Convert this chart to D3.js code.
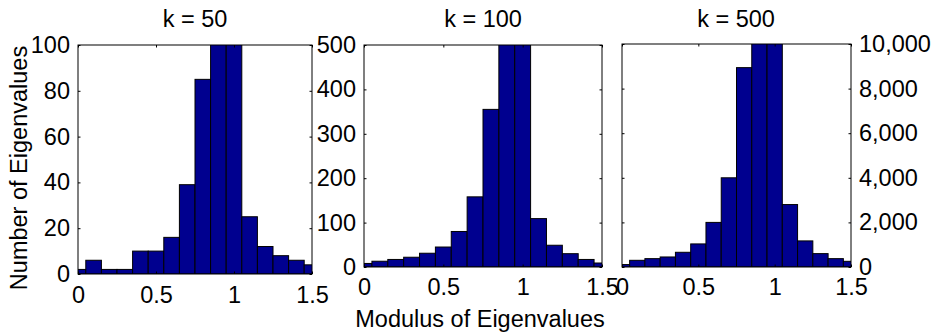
<!DOCTYPE html>
<html>
<head>
<meta charset="utf-8">
<script src="https://cdn.jsdelivr.net/npm/d3@7"></script>
<style>
  body { margin: 0; background: #fff; }
  svg text { font-family: "Liberation Sans", Arial, Helvetica, sans-serif; fill: #000; }
</style>
</head>
<body>
<svg width="931" height="333"></svg>
<script>
// histogram bins (centres, width 0.1)
var binCenters = [0, 0.1, 0.2, 0.3, 0.4, 0.5, 0.6, 0.7, 0.8, 0.9, 1.0, 1.1, 1.2, 1.3, 1.4, 1.5];
var binWidth = 0.1;

// counts (the two peak bins run off the top of each axis)
var counts50  = [2, 6, 2, 2, 10, 10, 16, 39, 85, 135, 125, 25, 12, 8, 6, 4];
var counts100 = [8, 13, 17, 22, 31, 45, 80, 158, 355, 620, 600, 109, 49, 30, 17, 9];
var counts500 = [110, 300, 375, 450, 660, 1035, 2000, 4000, 8940, 12500, 12000, 2800, 1170, 600, 375, 255];

var titles = ["k = 50", "k = 100", "k = 500"];
var xTicks = [0, 0.5, 1, 1.5];
var yTicks50 = [0, 20, 40, 60, 80, 100];
var yTicks100 = [0, 100, 200, 300, 400, 500];
var yTicks500 = [0, 2000, 4000, 6000, 8000, 10000];

var svg = d3.select("svg");
var fontSize = 23.5;
var tick = 2.5;

var panels = [
  {title: titles[0], counts: counts50,  yTicks: yTicks50,  yMax: 100,   left: 78,  right: 312, top: 45, bottom: 274, ySide: "left",  xPad: 12.5, cx: 195},
  {title: titles[1], counts: counts100, yTicks: yTicks100, yMax: 500,   left: 364, right: 602, top: 45, bottom: 267, ySide: "left",  xPad: 11,   cx: 483},
  {title: titles[2], counts: counts500, yTicks: yTicks500, yMax: 10000, left: 622, right: 851, top: 44, bottom: 267, ySide: "right", xPad: 11,   cx: 736}
];

panels.forEach(function (p, i) {
  var x = d3.scaleLinear().domain([0, 1.5]).range([p.left, p.right]);
  var y = d3.scaleLinear().domain([0, p.yMax]).range([p.bottom, p.top]);

  svg.append("clipPath").attr("id", "clip" + i)
    .append("rect")
    .attr("x", p.left).attr("y", p.top)
    .attr("width", p.right - p.left).attr("height", p.bottom - p.top);

  // bars
  svg.append("g")
    .attr("clip-path", "url(#clip" + i + ")")
    .selectAll("rect")
    .data(binCenters)
    .enter()
    .append("rect")
    .attr("x", d => x(d - binWidth / 2))
    .attr("width", d => x(d + binWidth / 2) - x(d - binWidth / 2))
    .attr("y", (d, j) => y(p.counts[j]))
    .attr("height", (d, j) => y(0) - y(p.counts[j]))
    .attr("fill", "#00008f")
    .attr("stroke", "#000")
    .attr("stroke-width", 1);

  // inward ticks on all four sides
  var fmt = p.ySide === "right" ? d3.format(",") : d3.format("");
  var xb = svg.append("g").attr("transform", "translate(0," + p.bottom + ")")
    .call(d3.axisBottom(x).tickValues(xTicks).tickSize(-tick).tickPadding(p.xPad).tickFormat(d3.format("")));
  var xt = svg.append("g").attr("transform", "translate(0," + p.top + ")")
    .call(d3.axisTop(x).tickValues(xTicks).tickSize(-tick).tickFormat(""));
  var yl = svg.append("g").attr("transform", "translate(" + p.left + ",0)")
    .call(d3.axisLeft(y).tickValues(p.yTicks).tickSize(-tick).tickPadding(8)
      .tickFormat(p.ySide === "left" ? fmt : ""));
  var yr = svg.append("g").attr("transform", "translate(" + p.right + ",0)")
    .call(d3.axisRight(y).tickValues(p.yTicks).tickSize(-tick).tickPadding(8)
      .tickFormat(p.ySide === "right" ? fmt : ""));

  [xb, xt, yl, yr].forEach(function (g) {
    g.select(".domain").remove();
    g.selectAll("line").attr("stroke", "#000");
    g.selectAll("text").style("font-size", fontSize + "px").attr("fill", "#000");
  });

  // box
  svg.append("rect")
    .attr("x", p.left).attr("y", p.top)
    .attr("width", p.right - p.left).attr("height", p.bottom - p.top)
    .attr("fill", "none").attr("stroke", "#000").attr("stroke-width", 1);

  svg.append("text")
    .attr("x", p.cx).attr("y", 27)
    .attr("text-anchor", "middle")
    .style("font-size", fontSize + "px")
    .text(p.title);
});

svg.append("text")
  .attr("transform", "translate(27,168) rotate(-90)")
  .attr("text-anchor", "middle")
  .style("font-size", fontSize + "px")
  .text("Number of Eigenvalues");

svg.append("text")
  .attr("x", 480).attr("y", 327)
  .attr("text-anchor", "middle")
  .style("font-size", fontSize + "px")
  .text("Modulus of Eigenvalues");
</script>
</body>
</html>
